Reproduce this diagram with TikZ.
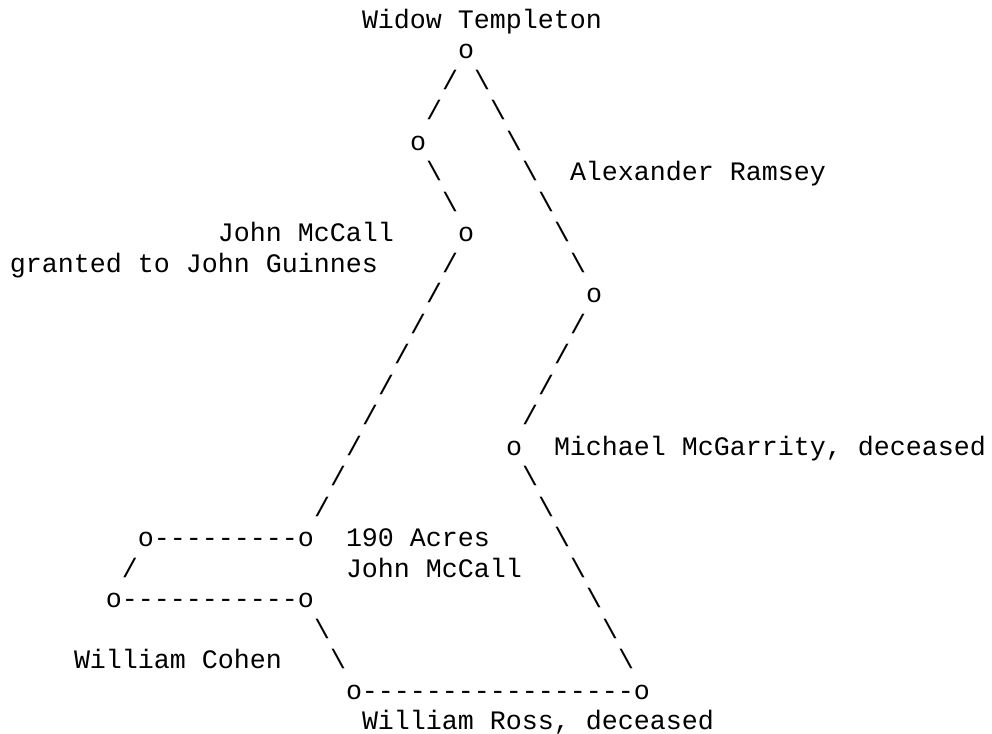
\documentclass[tikz,border=0pt]{standalone}
\usepackage{fontspec}
\setmonofont{Liberation Mono}
\tikzset{
  ascii/.style={font=\ttfamily\fontsize{15.17pt}{18pt}\selectfont,
                anchor=base west,inner sep=0pt,outer sep=0pt}
}
\begin{document}
\begin{tikzpicture}[x=0.32cm,y=-0.6096cm]
\useasboundingbox (-0.625,-0.935) rectangle (61.375,23.146);
%corners
\node[ascii] (wt) at (28,1) {o};
\node[ascii] (ka) at (25,4) {o};
\node[ascii] (kb) at (28,7) {o};
\node[ascii] (ar) at (36,9) {o};
\node[ascii] (mm) at (31,14) {o};
\node[ascii] (ta) at (8,17) {o---------o};
\node[ascii] (tb) at (6,19) {o-----------o};
\node[ascii] (wr) at (21,22) {o-----------------o};
%forward lines
\foreach \c/\r [count=\i] in {27/2,26/3,27/8,26/9,25/10,24/11,23/12,22/13,21/14,
    20/15,19/16,7/18,35/10,34/11,33/12,32/13}
  \node[ascii] (fs\i) at (\c,\r) {/};
%back lines
\foreach \c/\r [count=\i] in {29/2,30/3,31/4,32/5,33/6,34/7,35/8,26/5,27/6,
    32/15,33/16,34/17,35/18,36/19,37/20,38/21,19/20,20/21}
  \node[ascii] (bs\i) at (\c,\r) {\textbackslash};
%labels
\node[ascii] (l1) at (22,0) {Widow Templeton};
\node[ascii] (l2) at (35,5) {Alexander Ramsey};
\node[ascii] (l3) at (13,7) {John McCall};
\node[ascii] (l4) at (0,8) {granted to John Guinnes};
\node[ascii] (l5) at (34,14) {Michael McGarrity, deceased};
\node[ascii] (l6) at (21,17) {190 Acres};
\node[ascii] (l7) at (21,18) {John McCall};
\node[ascii] (l8) at (4,21) {William Cohen};
\node[ascii] (l9) at (22,23) {William Ross, deceased};
\end{tikzpicture}
\end{document}
